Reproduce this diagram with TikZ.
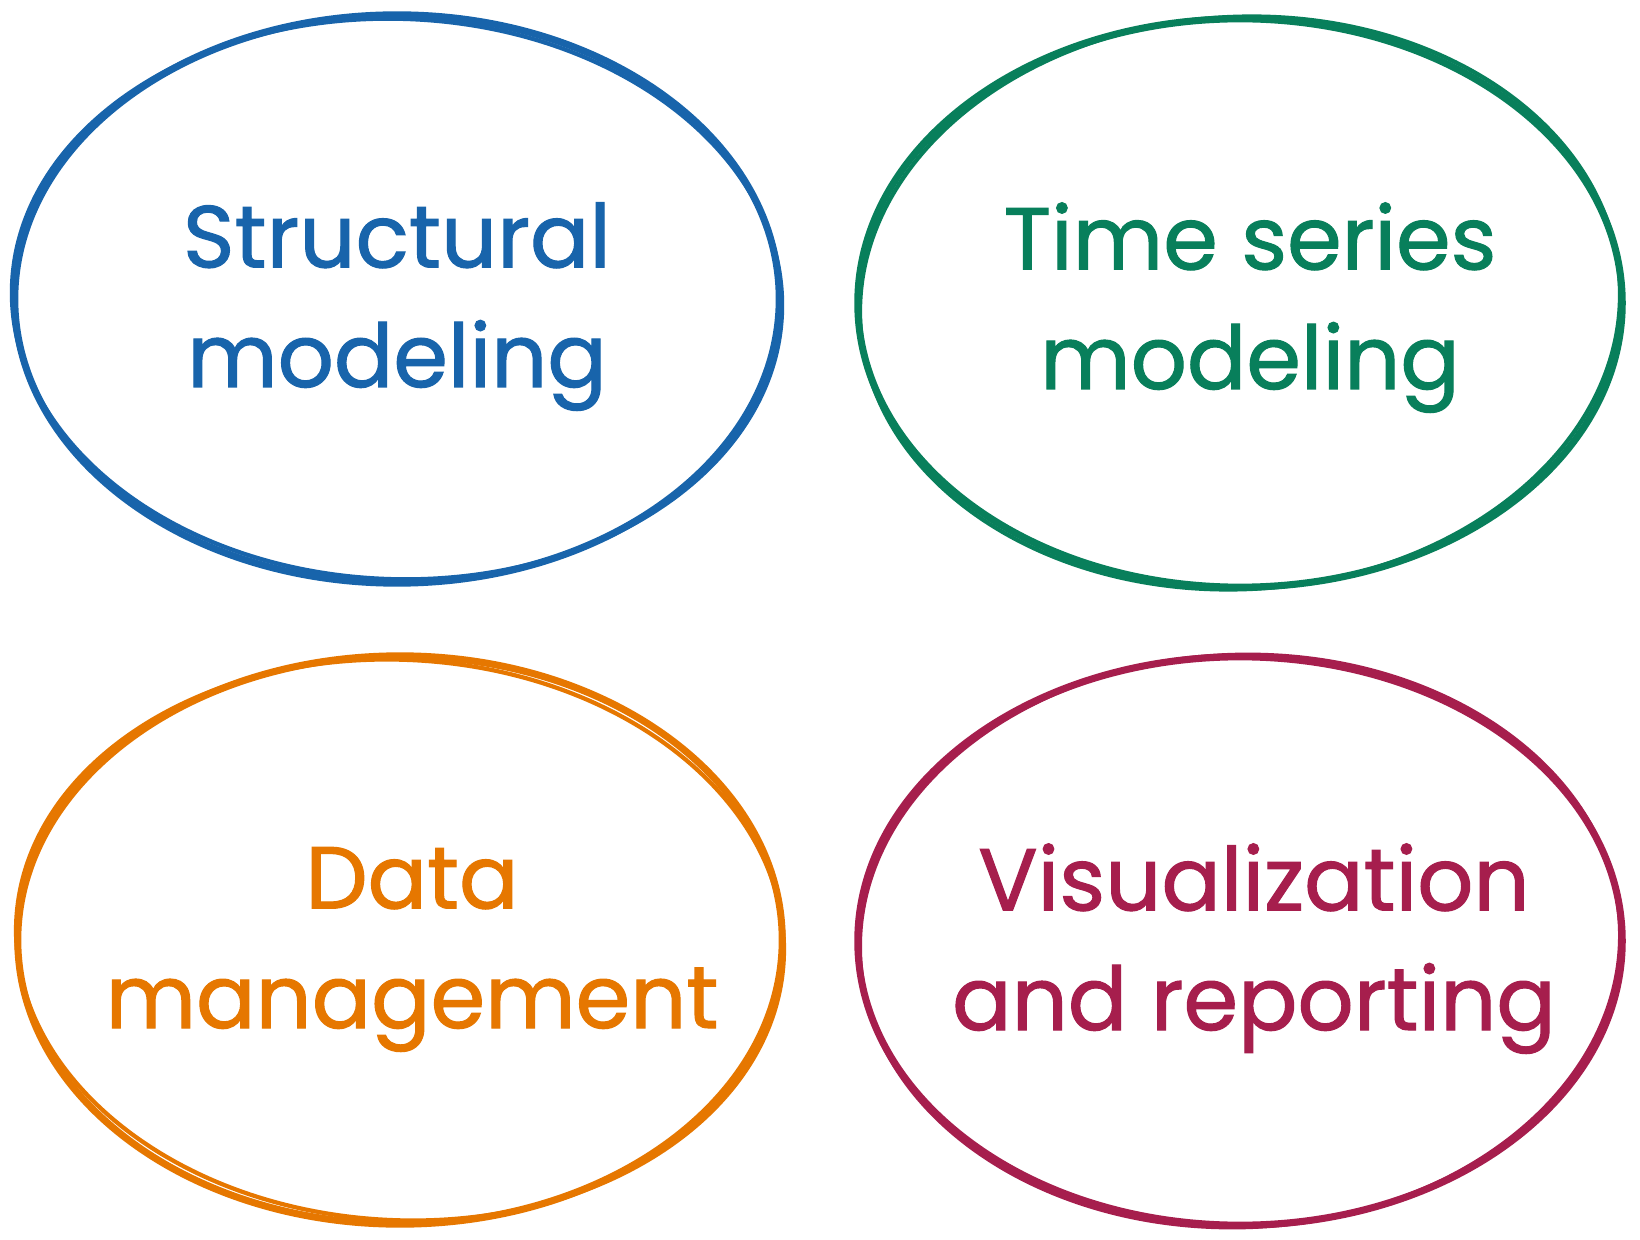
\documentclass[tikz,border=0pt]{standalone}
\usepackage{fontspec}
\setmainfont{Poppins}[FakeBold=1.2]
\usetikzlibrary{shapes.geometric}
\definecolor{cblue}{HTML}{1864AB}
\definecolor{cgreen}{HTML}{087F5B}
\definecolor{corange}{HTML}{E67700}
\definecolor{cred}{HTML}{A61E4D}
\tikzset{
  blob/.style={ellipse, draw=#1, line width=2pt, minimum width=7.64cm, minimum height=5.68cm, inner sep=0pt},
  sketch/.style={draw=#1, line width=1.2pt},
  lbl/.style={text=#1, align=center, anchor=base, font=\fontsize{25}{34}\selectfont\addfontfeatures{FakeBold=1.2}, inner sep=0pt},
}
\begin{document}
\begin{tikzpicture}[x=0.01cm,y=-0.01cm]
\useasboundingbox[fill=white] (0,0) rectangle (1640,1240);
% shapes
\node[blob=cblue] (s1) at (397,299) {};
\node[blob=cgreen] (s2) at (1240,303) {};
\node[blob=corange] (s3) at (400,940) {};
\node[blob=cred] (s4) at (1240,941) {};
% second sketch strokes
\draw[sketch=cblue] (s1.center) ellipse [x radius=3.85cm, y radius=2.80cm, rotate=-2];
\draw[sketch=cgreen] (s2.center) ellipse [x radius=3.80cm, y radius=2.86cm, rotate=3];
\draw[sketch=corange] (s3.center) ellipse [x radius=3.84cm, y radius=2.80cm, rotate=-3];
\draw[sketch=cred] (s4.center) ellipse [x radius=3.80cm, y radius=2.86cm, rotate=2];
% labels (anchor = baseline of last line)
\node[lbl=cblue] (t1) at (397,387) {Structural\\modeling};
\node[lbl=cgreen] (t2) at (1250,389) {Time series\\modeling};
\node[lbl=corange] (t3) at (412,1028) {Data\\management};
\node[lbl=cred] (t4) at (1254,1030) {Visualization\\and reporting};
\end{tikzpicture}
\end{document}
